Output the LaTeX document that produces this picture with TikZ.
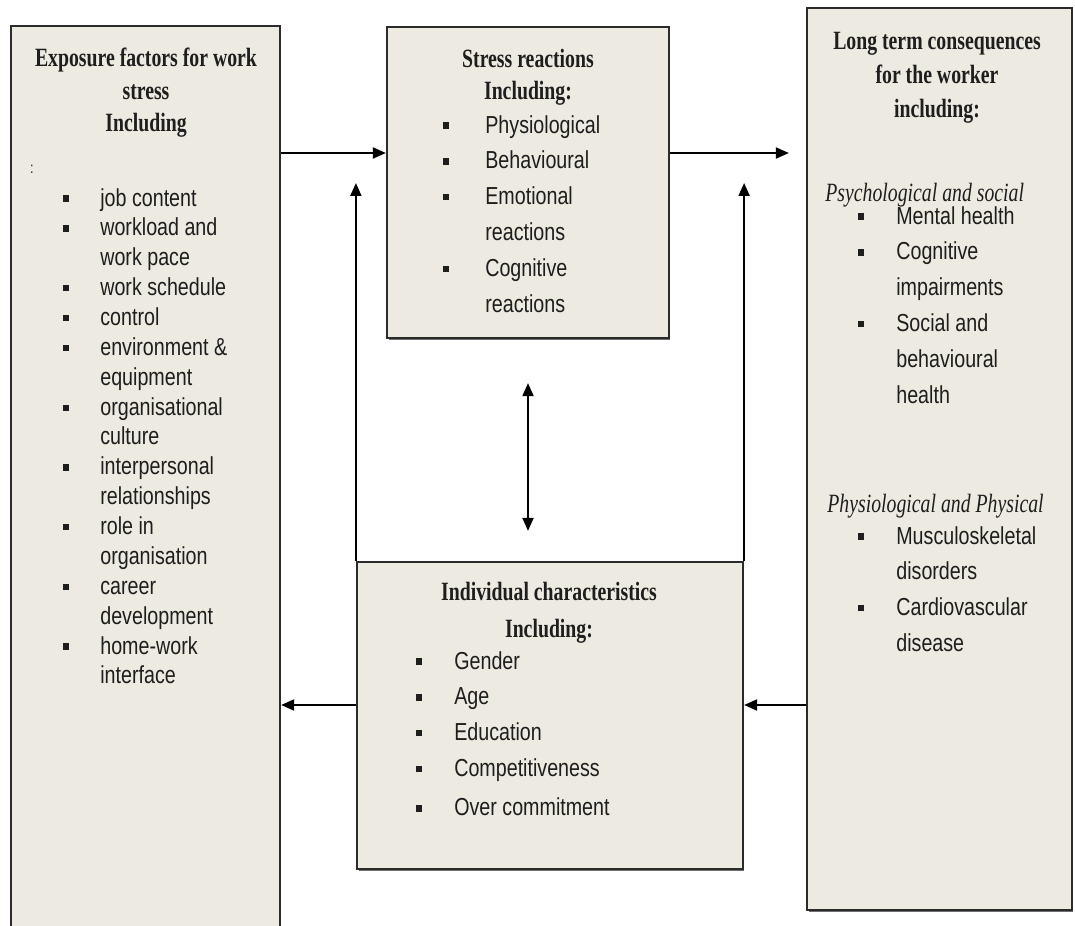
\documentclass[tikz,border=0pt]{standalone}
\usepackage{fontspec}
\usepackage{xcolor}
\usepackage{tikz}
\usetikzlibrary{arrows.meta,shadows}
\setmainfont{Liberation Serif}
\newfontfamily\bodyfont[FakeStretch=0.8]{Liberation Sans}
\newfontfamily\headfont[FakeStretch=0.75]{Liberation Serif}
\definecolor{WSBox}{HTML}{EDEAE1}
\definecolor{WSLine}{HTML}{2B2B2B}
\definecolor{WSText}{HTML}{1E1E1E}
\newcommand{\sqbul}{\rule[2.4pt]{3pt}{3.6pt}}
\tikzset{
  wsbox/.style={draw=WSLine,line width=1.3pt,fill=WSBox,inner sep=0pt,
    drop shadow={shadow xshift=0.03cm,shadow yshift=-0.05cm,fill=black!70,opacity=0.8}},
  wshead/.style={align=center,inner sep=0pt,text=WSText,
    font=\headfont\bfseries\fontsize{15}{18.5}\selectfont},
  wssub/.style={inner sep=0pt,text=WSText,font=\headfont\itshape\fontsize{15}{18}\selectfont},
  wslist/.style={inner sep=0pt,text=WSText,font=\bodyfont\fontsize{14}{20.4}\selectfont},
  wsarrow/.style={line width=1.1pt,draw=black,-{Triangle[length=0.26cm,width=0.22cm]}},
  wsboth/.style={line width=1.1pt,draw=black,
    {Triangle[length=0.26cm,width=0.22cm]}-{Triangle[length=0.26cm,width=0.22cm]}}
}

\begin{document}
\begin{tikzpicture}[x=0.02cm,y=-0.02cm]
\path[use as bounding box] (0,0) rectangle (1075,926);
\fill[white] (0,0) rectangle (1075,926);
\node[wsbox,minimum width=5.38cm,minimum height=18.18cm] (expo) at (145.5,480.5) {};
\node[wsbox,minimum width=5.64cm,minimum height=6.22cm] (stress) at (528,182.5) {};
\node[wsbox,minimum width=7.72cm,minimum height=6.14cm] (indiv) at (550,715.5) {};
\node[wsbox,minimum width=5.30cm,minimum height=18.04cm] (cons) at (939.5,459) {};
\coordinate (toprow) at (0,153);
\coordinate (uptip) at (0,183);
\coordinate (lowrow) at (0,705);
\draw[wsarrow] (expo.east |- toprow) -- (stress.west |- toprow);
\draw[wsarrow,shorten >=0.34cm] (stress.east |- toprow) -- (cons.west |- toprow);
\draw[wsarrow] (indiv.north west) -- (indiv.north west |- uptip);
\draw[wsarrow] (indiv.north east) -- (indiv.north east |- uptip);
\draw[wsboth,shorten <=0.88cm,shorten >=0.6cm] (stress.south) -- (stress.south |- indiv.north);
\draw[wsarrow] (indiv.west |- lowrow) -- (expo.east |- lowrow);
\draw[wsarrow] (cons.west |- lowrow) -- (indiv.east |- lowrow);
\node[wshead,anchor=base] (expotitle) at (146,132) {Exposure factors for work\\stress\\Including};
\node[inner sep=0pt,text=WSText,font=\bodyfont\fontsize{9}{9}\selectfont] (expocolon) at (32,169) {:};
\node[wslist,anchor=base west,font=\bodyfont\fontsize{14}{17}\selectfont] (expoitems) at (63,206) {%
\begin{tabular}[t]{@{}p{0.74cm}@{}l@{}}
\sqbul & job content\\
\sqbul & workload and\\
       & work pace\\
\sqbul & work schedule\\
\sqbul & control\\
\sqbul & environment \&\\
       & equipment\\
\sqbul & organisational\\
       & culture\\
\sqbul & interpersonal\\
       & relationships\\
\sqbul & role in\\
       & organisation\\
\sqbul & career\\
       & development\\
\sqbul & home-work\\
       & interface
\end{tabular}};
\node[wshead,anchor=base] (stresstitle) at (528,100) {Stress reactions\\Including:};
\node[wslist,anchor=base west] (stressitems) at (443,133) {%
\begin{tabular}[t]{@{}p{0.84cm}@{}l@{}}
\sqbul & Physiological\\
\sqbul & Behavioural\\
\sqbul & Emotional\\
       & reactions\\
\sqbul & Cognitive\\
       & reactions
\end{tabular}};
\node[wshead,anchor=base,font=\headfont\bfseries\fontsize{15}{19.3}\selectfont] (constitle) at (937,117) {Long term consequences\\for the worker\\including:};
\node[wssub,anchor=base west] (psysoc) at (825,201) {Psychological and social};
\node[wslist,anchor=base west] (psyitems) at (858,224) {%
\begin{tabular}[t]{@{}p{0.76cm}@{}l@{}}
\sqbul & Mental health\\
\sqbul & Cognitive\\
       & impairments\\
\sqbul & Social and\\
       & behavioural\\
       & health
\end{tabular}};
\node[wssub,anchor=base west] (physphys) at (827,512) {Physiological and Physical};
\node[wslist,anchor=base west] (physitems) at (858,544) {%
\begin{tabular}[t]{@{}p{0.76cm}@{}l@{}}
\sqbul & Musculoskeletal\\
       & disorders\\
\sqbul & Cardiovascular\\
       & disease
\end{tabular}};
\node[wshead,anchor=base,font=\headfont\bfseries\fontsize{15}{21}\selectfont] (indivtitle) at (549,637) {Individual characteristics\\Including:};
\node[wslist,anchor=base west] (indivitems) at (416,669) {%
\begin{tabular}[t]{@{}p{0.76cm}@{}l@{}}
\sqbul & Gender\\
\sqbul & Age\\
\sqbul & Education\\
\sqbul & Competitiveness\\[2pt]
\sqbul & Over commitment
\end{tabular}};
\end{tikzpicture}
\end{document}
